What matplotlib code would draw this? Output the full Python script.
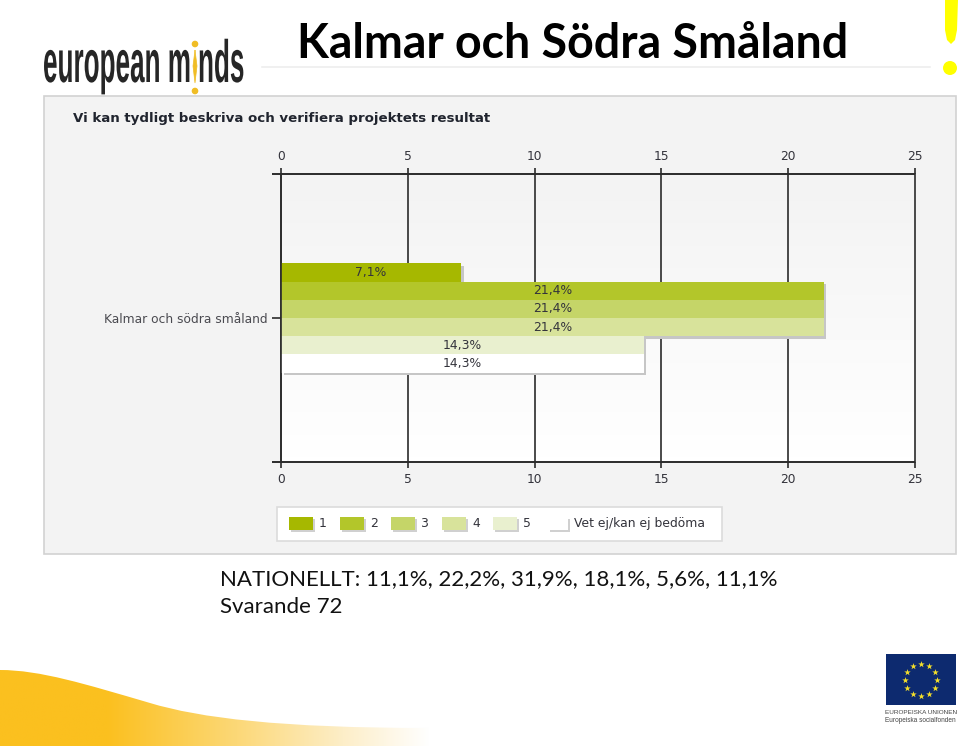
import numpy as np
import matplotlib
matplotlib.use('Agg')
from matplotlib import pyplot as plt
from matplotlib import patheffects
from matplotlib.colors import LinearSegmentedColormap
from matplotlib.patches import Circle, PathPatch, Polygon, Rectangle
from matplotlib.path import Path
from matplotlib.transforms import Affine2D

W, H = 960, 746

title = 'Kalmar och Södra Småland'
question = 'Vi kan tydligt beskriva och verifiera projektets resultat'
region = 'Kalmar och södra småland'
national = 'NATIONELLT: 11,1%, 22,2%, 31,9%, 18,1%, 5,6%, 11,1%'
respondents = 'Svarande 72'

answers = ['1', '2', '3', '4', '5', 'Vet ej/kan ej bedöma']
values = [7.1, 21.4, 21.4, 21.4, 14.3, 14.3]
value_labels = ['7,1%', '21,4%', '21,4%', '21,4%', '14,3%', '14,3%']
colors = ['#a6b800', '#b3c62a', '#c5d568', '#d8e39b', '#e9f0cf', '#ffffff']
x_ticks = [0, 5, 10, 15, 20, 25]

# legend swatch left edges, in pixels
legend_x = [289, 340, 391, 442, 493, 548]
legend_w = [24, 24, 24, 24, 24, 20]

DARK = '#2b2b2b'
TEXT = '#33333b'


class StretchText(patheffects.AbstractPathEffect):
    # stretch the glyphs about the baseline start, for the condensed logo lettering
    def __init__(self, sx, sy):
        super().__init__()
        self.sx = sx
        self.sy = sy

    def draw_path(self, renderer, gc, tpath, affine, rgbFace=None):
        renderer.draw_path(gc, tpath, Affine2D().scale(self.sx, self.sy) + affine, rgbFace)


fig = plt.figure(figsize=(W / 100, H / 100), dpi=100, facecolor='white')

# page layer in pixel coordinates
page = fig.add_axes([0, 0, 1, 1])
page.set_xlim(0, W)
page.set_ylim(H, 0)
page.axis('off')

# yellow swoosh bottom left
fade = LinearSegmentedColormap.from_list('fade', [(0, '#fbc01f'), (0.25, '#fbc01f'), (0.55, '#fcd877'), (0.8, '#fdeec8'), (1, '#ffffff')])
im = page.imshow(np.linspace(0, 1, 256).reshape(1, -1), cmap=fade, extent=(0, 430, H, 660), aspect='auto', zorder=1)
edge = Path([(0, 670), (40, 670), (85, 684), (150, 703), (200, 718), (280, 728), (430, 728), (430, H), (0, H), (0, 670)],
            [Path.MOVETO, Path.CURVE4, Path.CURVE4, Path.CURVE4, Path.CURVE4, Path.CURVE4, Path.CURVE4, Path.LINETO, Path.LINETO, Path.CLOSEPOLY])
im.set_clip_path(edge, transform=page.transData)
page.set_xlim(0, W)
page.set_ylim(H, 0)

# logo
logo = dict(fontsize=20, fontweight='bold', color='#262626', family=['Liberation Sans', 'DejaVu Sans'], va='baseline', ha='left', zorder=3)
page.text(43, 82, 'european m', path_effects=[StretchText(0.94, 2.15)], **logo)
page.text(198, 82, 'nds', path_effects=[StretchText(0.94, 2.15)], **logo)
page.add_patch(PathPatch(Path([(195, 50), (197, 66), (195, 83), (193, 66), (195, 50)]), fc='#f0bd25', ec='#f0bd25', lw=0.5, zorder=3))
page.add_patch(Circle((195, 44), 2.6, color='#f0bd25', zorder=3))
page.add_patch(Circle((195, 91), 2.6, color='#f0bd25', zorder=3))

# heading
page.plot([262, 930], [67, 67], color='#eeeeee', lw=1.2, zorder=1)
page.text(297, 58, title, fontsize=33.5, fontweight='bold', family=['Lato', 'DejaVu Sans'], color='black', va='baseline', zorder=3)

# exclamation mark
page.add_patch(Polygon([(945, 0), (958, 0), (957, 30), (955, 40), (951, 44), (947, 40), (945, 30)], closed=True, fc='#ffff00', ec='none', zorder=3))
page.add_patch(Circle((950, 68), 7, fc='#ffff00', ec='none', zorder=3))

# grey panel around the chart
page.add_patch(Rectangle((44, 96), 912, 458, fc='#f3f3f3', ec='#d2d2d2', lw=1.2, zorder=1))
page.text(73, 122, question, fontsize=9.6, fontweight='bold', family='DejaVu Sans', color='#20242e', va='baseline', zorder=3)

# legend box
page.add_patch(Rectangle((277, 507), 445, 34, fc='white', ec='#dcdcdc', lw=1.2, zorder=2))
for name, col, lx, lw_ in zip(answers, colors, legend_x, legend_w):
    page.add_patch(Rectangle((lx + 2, 519), lw_, 13, fc='#d0d0d0', ec='none', zorder=3))
    page.add_patch(Rectangle((lx, 517), lw_, 13, fc=col, ec='none', zorder=3))
    page.text(lx + lw_ + 6, 523.5, name, fontsize=8.9, family='DejaVu Sans', color=TEXT, va='center', zorder=4)

# text under the panel
body = dict(family=['Lato', 'DejaVu Sans'], color='#111111', va='baseline', zorder=3)
page.text(220, 585, national, fontsize=16.05, **body)
page.text(220, 613, respondents, fontsize=16.05, **body)

# EU flag
page.add_patch(Rectangle((886, 654), 70, 51, fc='#0d2a6f', ec='none', zorder=2))
star_angles = np.deg2rad(np.arange(0, 360, 30))
page.scatter(921 + 16 * np.cos(star_angles), 680 + 16 * np.sin(star_angles), marker='*', s=24, color='#f5e02a', linewidths=0, zorder=3)
page.text(885, 712.5, 'EUROPEISKA UNIONEN', fontsize=4.6, family='Liberation Sans', color='#444444', va='center', zorder=3)
page.text(885, 721, 'Europeiska socialfonden', fontsize=4.7, family='Liberation Sans', color='#444444', va='center', zorder=3)

# chart axes: x 0-25 runs from pixel 281 to 915, frame y from 174 to 462
ax = fig.add_axes([281 / W, 1 - 462 / H, (915 - 281) / W, (462 - 174) / H])
ax.patch.set_alpha(0)
page.imshow(np.linspace(0, 1, 64).reshape(-1, 1), cmap=LinearSegmentedColormap.from_list('bg', ['#f3f3f3', '#ffffff']),
            extent=(281, 915, 462, 174), aspect='auto', zorder=1.5)
page.set_xlim(0, W)
page.set_ylim(H, 0)

ax.set_xlim(0, 25)
ax.set_ylim(-0.5, 0.5)
for s in ax.spines.values():
    s.set_visible(False)
ax.set_axisbelow(True)

bar_h = 0.0632
n = len(values)
y_pos = [(n / 2 - 0.5 - i) * bar_h for i in range(n)]
for i in range(n):
    bar = ax.barh(y_pos[i], values[i], height=bar_h, color=colors[i], linewidth=0, zorder=3 + i * 0.1)[0]
    bar.set_path_effects([patheffects.SimplePatchShadow(offset=(2, -2), shadow_rgbFace='#c6c6c6', alpha=1.0), patheffects.Normal()])
    ax.text(values[i] / 2, y_pos[i], value_labels[i], ha='center', va='center', fontsize=8.9, family='DejaVu Sans', color=TEXT, zorder=5)

ax.set_xticks(x_ticks)
ax.set_yticks([0], [region])
ax.grid(axis='x', color=DARK, lw=1.2, clip_on=False)
ax.tick_params(axis='x', top=True, bottom=True, labeltop=True, labelbottom=True, length=4, width=1.2, color=DARK, pad=4, labelsize=8.8, labelcolor=TEXT)
ax.tick_params(axis='y', length=6.5, width=1.2, color=DARK, pad=3, labelsize=8.8, labelcolor='#4a4a50')
for lab in ax.get_xticklabels() + ax.get_yticklabels():
    lab.set_family('DejaVu Sans')
ax.hlines([-0.5, 0.5], -0.36, 25, color=DARK, lw=1.4, clip_on=False, zorder=2)
ax.axvline(0, color=DARK, lw=1.2, clip_on=False, zorder=6)

fig.savefig('out.png', dpi=100)
